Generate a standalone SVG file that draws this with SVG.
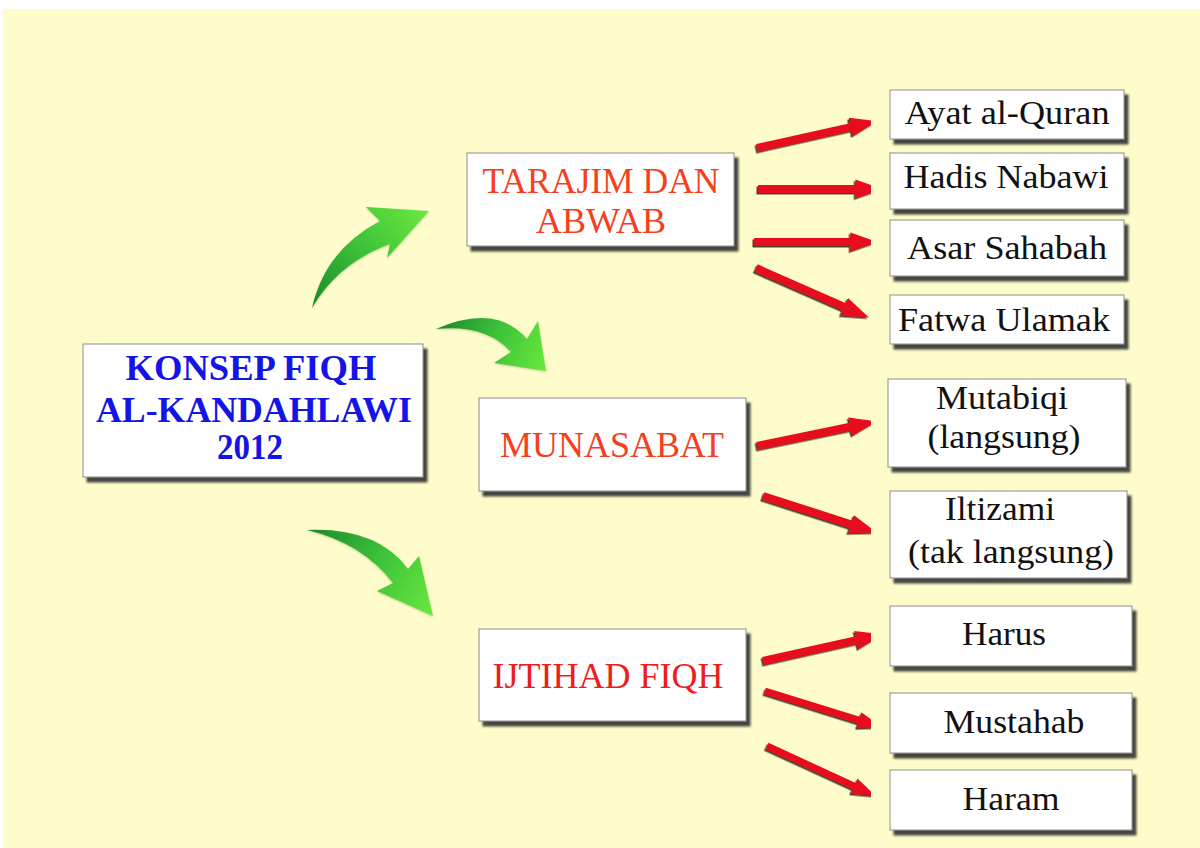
<svg xmlns="http://www.w3.org/2000/svg" width="1200" height="848" viewBox="0 0 1200 848">
<defs>
<style>
.box{fill:#fff;stroke:#8c8c8c;stroke-width:1;filter:url(#sh)}
.main{font-family:"Liberation Serif","Times New Roman",serif;font-weight:bold;font-size:36px;fill:#1414e6;text-anchor:middle}
.mid{font-family:"Liberation Serif","Times New Roman",serif;font-size:36px;fill:#f5401e;text-anchor:middle}
.leaf{font-family:"Liberation Serif","Times New Roman",serif;font-size:34px;fill:#111;text-anchor:middle}
.ra{stroke:#e8101a;fill:none;marker-end:url(#rh)}
.ga{filter:url(#gs)}
</style>
<filter id="sh" x="-10%" y="-10%" width="130%" height="130%">
<feDropShadow dx="4" dy="5" stdDeviation="1" flood-color="#333" flood-opacity="0.9"/>
</filter>
<filter id="rs" x="-10%" y="-30%" width="120%" height="160%">
<feDropShadow dx="-1.5" dy="1.5" stdDeviation="0.4" flood-color="#3a2a1a" flood-opacity="0.9"/>
</filter>
<filter id="gs" x="-10%" y="-10%" width="120%" height="120%">
<feDropShadow dx="0" dy="1" stdDeviation="1" flood-color="#6a8a40" flood-opacity="0.4"/>
</filter>
<marker id="rh" viewBox="0 -1.2 3.4 2.4" refX="0.2" refY="0" markerWidth="3.4" markerHeight="2.4" markerUnits="strokeWidth" orient="auto">
<path d="M0,-1.2 L3.4,0 L0,1.2 Z" fill="#e8101a"/>
</marker>
<linearGradient id="g1" x1="313" y1="307" x2="428" y2="212" gradientUnits="userSpaceOnUse">
<stop offset="0" stop-color="#1c8a2a"/><stop offset="0.5" stop-color="#3cc23a"/><stop offset="1" stop-color="#6ae83c"/>
</linearGradient>
<linearGradient id="g2" x1="437" y1="328" x2="545" y2="370" gradientUnits="userSpaceOnUse">
<stop offset="0" stop-color="#1c8a2a"/><stop offset="0.5" stop-color="#3cc23a"/><stop offset="1" stop-color="#6ae83c"/>
</linearGradient>
<linearGradient id="g3" x1="308" y1="530" x2="432" y2="615" gradientUnits="userSpaceOnUse">
<stop offset="0" stop-color="#1c8a2a"/><stop offset="0.5" stop-color="#3cc23a"/><stop offset="1" stop-color="#6ae83c"/>
</linearGradient>
</defs>
<rect x="0" y="0" width="1200" height="848" fill="#fff"/>
<rect x="3" y="9" width="1197" height="839" fill="#fffccb"/>

<g id="connectors">
<g id="green-arrows" class="ga">
<path d="M312,308 Q325,250 380,221 L366,207 L429,211 L387,258 L390,244 Q338,263 312,308 Z" fill="url(#g1)"/>
<path d="M436,329 Q496,303 527,339 L538,321 L546,371 L494,363 L511,352 Q486,324 436,329 Z" fill="url(#g2)"/>
<path d="M307,530 Q377,527 408,569 L419,556 L433,616 L377,591 L393,583 Q362,543 307,530 Z" fill="url(#g3)"/>
</g>
<g id="red-arrows" filter="url(#rs)">
<line class="ra" stroke-width="8" x1="757" y1="148" x2="852" y2="126.8"/>
<line class="ra" stroke-width="8" x1="758" y1="189" x2="857" y2="189"/>
<line class="ra" stroke-width="8" x1="754" y1="242" x2="852" y2="242"/>
<line class="ra" stroke-width="8" x1="756" y1="268" x2="845.5" y2="307.3"/>
<line class="ra" stroke-width="8" x1="757" y1="446" x2="851.6" y2="426.5"/>
<line class="ra" stroke-width="8" x1="763" y1="496" x2="852.3" y2="524.7"/>
<line class="ra" stroke-width="8" x1="763" y1="661" x2="857.6" y2="639.9"/>
<line class="ra" stroke-width="7" x1="765" y1="691" x2="860.3" y2="720.6"/>
<line class="ra" stroke-width="7" x1="767" y1="746" x2="855.3" y2="786.6"/>
</g>
</g>

<g id="konsep">
<rect class="box" x="83" y="344" width="340" height="133"/>
<text class="main" x="251" y="380" textLength="251" lengthAdjust="spacingAndGlyphs">KONSEP FIQH</text>
<text class="main" x="254" y="422" textLength="316" lengthAdjust="spacingAndGlyphs">AL-KANDAHLAWI</text>
<text class="main" x="250" y="459" textLength="66" lengthAdjust="spacingAndGlyphs">2012</text>
</g>

<g id="tarajim">
<rect class="box" x="467" y="153" width="267" height="93"/>
<text class="mid" x="601" y="193" textLength="237" lengthAdjust="spacingAndGlyphs">TARAJIM DAN</text>
<text class="mid" x="601" y="233">ABWAB</text>
</g>

<g id="munasabat">
<rect class="box" x="479" y="398" width="267" height="93"/>
<text class="mid" x="612" y="457">MUNASABAT</text>
</g>

<g id="ijtihad">
<rect class="box" x="479" y="629" width="267" height="92"/>
<text class="mid" x="608" y="688" style="fill:#ee1c1c">IJTIHAD FIQH</text>
</g>

<g id="ayat"><rect class="box" x="890" y="90" width="234" height="49"/><text class="leaf" x="1007" y="124" textLength="205" lengthAdjust="spacingAndGlyphs">Ayat al-Quran</text></g>
<g id="hadis"><rect class="box" x="890" y="153" width="234" height="56"/><text class="leaf" x="1006" y="188" textLength="205" lengthAdjust="spacingAndGlyphs">Hadis Nabawi</text></g>
<g id="asar"><rect class="box" x="890" y="220" width="234" height="56"/><text class="leaf" x="1007" y="259" textLength="200" lengthAdjust="spacingAndGlyphs">Asar Sahabah</text></g>
<g id="fatwa"><rect class="box" x="890" y="295" width="234" height="49"/><text class="leaf" x="1004" y="331" textLength="212" lengthAdjust="spacingAndGlyphs">Fatwa Ulamak</text></g>
<g id="mutabiqi"><rect class="box" x="888" y="379" width="238" height="88"/><text class="leaf" x="1002" y="409" textLength="132" lengthAdjust="spacingAndGlyphs">Mutabiqi</text><text class="leaf" x="1004" y="448" textLength="153" lengthAdjust="spacingAndGlyphs">(langsung)</text></g>
<g id="iltizami"><rect class="box" x="890" y="491" width="237" height="87"/><text class="leaf" x="1000" y="520" textLength="110" lengthAdjust="spacingAndGlyphs">Iltizami</text><text class="leaf" x="1011" y="563" textLength="206" lengthAdjust="spacingAndGlyphs">(tak langsung)</text></g>
<g id="harus"><rect class="box" x="890" y="606" width="242" height="60"/><text class="leaf" x="1004" y="645" textLength="84" lengthAdjust="spacingAndGlyphs">Harus</text></g>
<g id="mustahab"><rect class="box" x="890" y="693" width="242" height="60"/><text class="leaf" x="1014" y="733" textLength="141" lengthAdjust="spacingAndGlyphs">Mustahab</text></g>
<g id="haram"><rect class="box" x="890" y="770" width="242" height="60"/><text class="leaf" x="1011" y="810" textLength="97" lengthAdjust="spacingAndGlyphs">Haram</text></g>
</svg>
